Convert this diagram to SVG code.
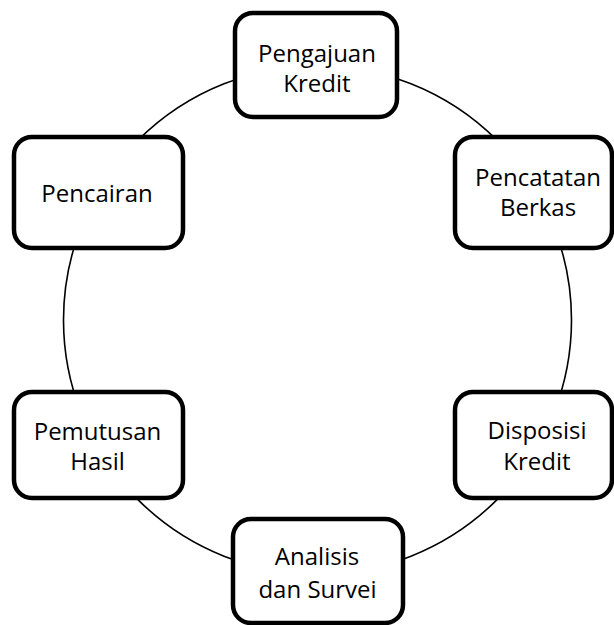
<svg xmlns="http://www.w3.org/2000/svg" width="614" height="625" viewBox="0 0 614 625">
<style>
.box{fill:#fff;stroke:#000;stroke-width:4.5}
.lbl{font-family:"Open Sans","Noto Sans",sans-serif;font-size:24px;fill:#000;text-anchor:middle}
.con{fill:none;stroke:#000;stroke-width:1.6}
</style>
<rect width="614" height="625" fill="#fff"/>
<g id="connectors">
<circle class="con" cx="317.5" cy="320" r="254"/>
</g>
<g id="pengajuan">
<rect class="box" x="235" y="13" width="162" height="104" rx="18"/>
<text class="lbl" x="317" y="62">Pengajuan</text>
<text class="lbl" x="317" y="92">Kredit</text>
</g>
<g id="pencatatan">
<rect class="box" x="455" y="137" width="157" height="111" rx="18"/>
<text class="lbl" x="538" y="186">Pencatatan</text>
<text class="lbl" x="538" y="216">Berkas</text>
</g>
<g id="disposisi">
<rect class="box" x="455" y="392" width="157" height="106" rx="18"/>
<text class="lbl" x="537" y="439">Disposisi</text>
<text class="lbl" x="537" y="470">Kredit</text>
</g>
<g id="analisis">
<rect class="box" x="233" y="519" width="170" height="104" rx="18"/>
<text class="lbl" x="317" y="565">Analisis</text>
<text class="lbl" x="317.5" y="598">dan Survei</text>
</g>
<g id="pemutusan">
<rect class="box" x="14" y="392" width="169" height="106" rx="18"/>
<text class="lbl" x="97.5" y="440">Pemutusan</text>
<text class="lbl" x="97.5" y="470">Hasil</text>
</g>
<g id="pencairan">
<rect class="box" x="14" y="137" width="169" height="111" rx="18"/>
<text class="lbl" x="97" y="202">Pencairan</text>
</g>
</svg>
